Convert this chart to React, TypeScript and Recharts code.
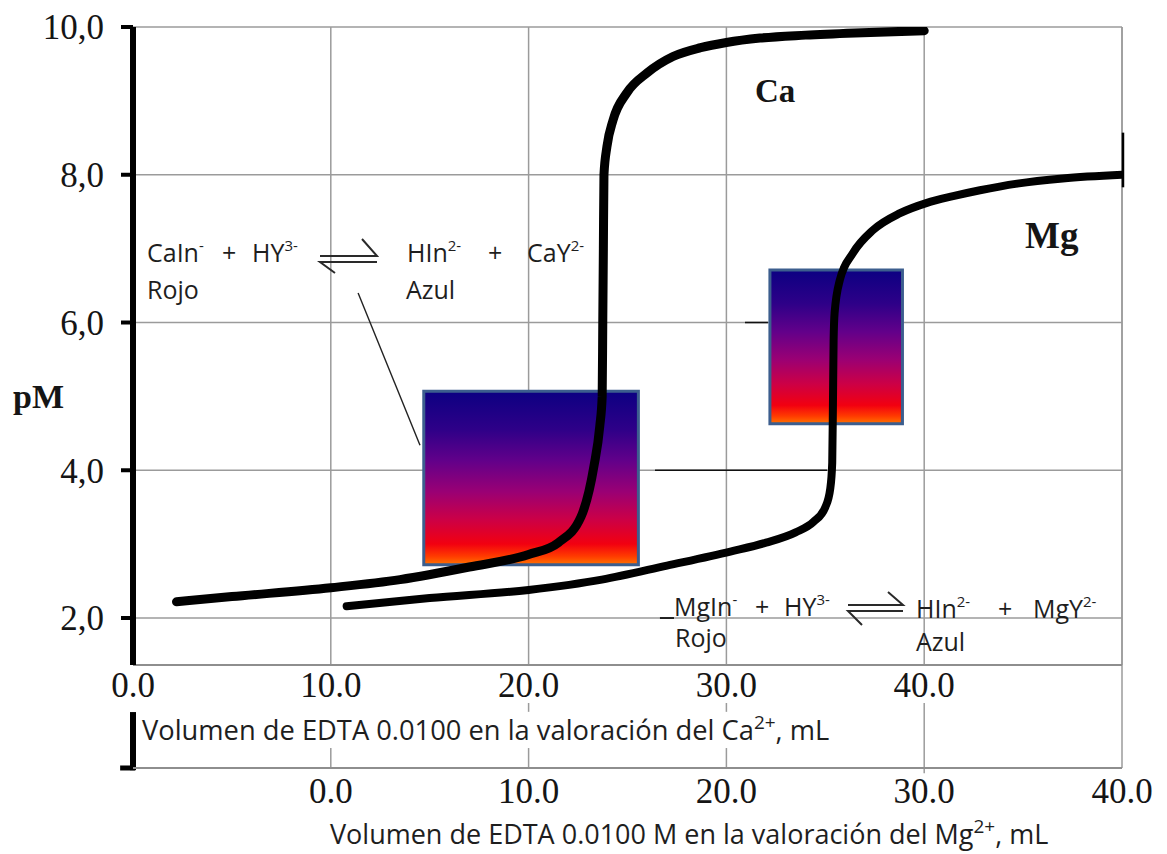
import React from 'react';
import {
  LineChart,
  Line,
  XAxis,
  YAxis,
  CartesianGrid,
  ReferenceArea,
  ReferenceLine,
} from 'recharts';

// ---- Data ----
// Ca titration: volume of EDTA (mL, upper x axis) vs pM
const caVolumes = [2.2, 5, 10, 13.5, 17, 20, 21.5, 22.65, 23.3, 23.6, 23.72, 23.75, 23.78, 23.81, 23.96, 24.27, 24.97, 26.0, 27.3, 28.7, 30.0, 31.7, 34.0, 36.5, 40.0];
const caPM = [2.22, 2.29, 2.41, 2.52, 2.69, 2.86, 3.02, 3.37, 4.05, 4.6, 5.0, 6.0, 7.0, 8.0, 8.38, 8.74, 9.11, 9.38, 9.6, 9.72, 9.79, 9.85, 9.89, 9.92, 9.95];

// Mg titration: volume of EDTA (mL, lower x axis) vs pM
const mgVolumes = [0.8, 5, 10, 13.7, 17, 20.2, 22, 23.5, 24.4, 25.0, 25.25, 25.35, 25.39, 25.42, 25.47, 25.74, 26.4, 27.41, 28.78, 30.14, 31.46, 32.82, 34.7, 37, 40];
const mgPM = [2.16, 2.27, 2.38, 2.52, 2.71, 2.9, 3.02, 3.16, 3.3, 3.5, 3.75, 4.1, 5.0, 5.76, 6.13, 6.58, 6.94, 7.25, 7.48, 7.62, 7.71, 7.79, 7.88, 7.95, 8.0];

const caTicks = [0, 10, 20, 30, 40];
const mgTicks = [0, 10, 20, 30, 40];
const pmTicks = [2, 4, 6, 8, 10];

const caData = caVolumes.map((v, i) => ({ v, pM: caPM[i] }));
const mgData = mgVolumes.map((v, i) => ({ v, pM: mgPM[i] }));

const serif = "'Liberation Serif', 'Times New Roman', serif";
const sans = "'Open Sans', 'Noto Sans', sans-serif";
const tickStyle = { fontFamily: serif, fontSize: 35, fill: '#151515' };
const GRID = '#9b9b9b';

type ChemProps = {
  x: number;
  y: number;
  parts: Array<[string, boolean?]>;
  size?: number;
  supSize?: number;
  rise?: number;
};

function Chem({ x, y, parts, size = 25, supSize = 15, rise = 11 }: ChemProps) {
  let raised = false;
  return (
    <text x={x} y={y} fontFamily={sans} fontSize={size} fill="#1e1e1e">
      {parts.map(([t, sup], i) => {
        let dy = 0;
        if (sup && !raised) {
          dy = -rise;
          raised = true;
        } else if (!sup && raised) {
          dy = rise;
          raised = false;
        }
        return (
          <tspan key={i} dy={dy} fontSize={sup ? supSize : size}>
            {t}
          </tspan>
        );
      })}
    </text>
  );
}

export default function App() {
  return (
    <div style={{ position: 'absolute', left: 0, top: 0, width: 1167, height: 854, background: '#fff' }}>
      <LineChart width={1167} height={854} margin={{ top: 27, right: 45, bottom: 0, left: 0 }}>
        <defs>
          <linearGradient id="indicador" x1="0" y1="0" x2="0" y2="1">
            <stop offset="0%" stopColor="#0c0082" />
            <stop offset="22%" stopColor="#2e0088" />
            <stop offset="40%" stopColor="#62008a" />
            <stop offset="58%" stopColor="#9a0074" />
            <stop offset="74%" stopColor="#cc0046" />
            <stop offset="88%" stopColor="#f20010" />
            <stop offset="95%" stopColor="#ff3a00" />
            <stop offset="100%" stopColor="#ff7400" />
          </linearGradient>
        </defs>

        <CartesianGrid xAxisId="ca" stroke={GRID} strokeWidth={1.5} />

        <XAxis
          xAxisId="ca"
          type="number"
          dataKey="v"
          domain={[0, 50]}
          ticks={caTicks}
          interval={0}
          allowDataOverflow
          height={103}
          axisLine={{ stroke: '#8e8e8e', strokeWidth: 2 }}
          tickLine={false}
          tickSize={0}
          tickMargin={7}
          tick={tickStyle}
          tickFormatter={(v: number) => v.toFixed(1)}
        />
        <XAxis
          xAxisId="mg"
          type="number"
          dataKey="v"
          domain={[-10, 40]}
          ticks={mgTicks}
          interval={0}
          allowDataOverflow
          height={86}
          axisLine={{ stroke: '#8e8e8e', strokeWidth: 2 }}
          tickLine={false}
          tickSize={0}
          tickMargin={10}
          tick={tickStyle}
          tickFormatter={(v: number) => v.toFixed(1)}
        />
        <YAxis
          type="number"
          domain={[1.364, 10]}
          ticks={pmTicks}
          interval={0}
          allowDataOverflow
          width={133}
          axisLine={{ stroke: '#000', strokeWidth: 6 }}
          tickLine={{ stroke: '#000', strokeWidth: 4 }}
          tickSize={12}
          tickMargin={17}
          tick={tickStyle}
          tickFormatter={(v: number) => v.toFixed(1).replace('.', ',')}
        />

        {/* right border continuing through the lower axis band */}
        <ReferenceLine xAxisId="ca" segment={[{ x: 50, y: 10 }, { x: 50, y: -0.03 }]} stroke={GRID} strokeWidth={1.5} ifOverflow="visible" />
        {/* lower band grid pieces */}
        <ReferenceLine xAxisId="ca" segment={[{ x: 10, y: 0.24 }, { x: 10, y: -0.03 }]} stroke={GRID} strokeWidth={1.5} ifOverflow="visible" />
        <ReferenceLine xAxisId="ca" segment={[{ x: 20, y: 0.85 }, { x: 20, y: 0.73 }]} stroke={GRID} strokeWidth={1.5} ifOverflow="visible" />
        <ReferenceLine xAxisId="ca" segment={[{ x: 20, y: 0.24 }, { x: 20, y: -0.03 }]} stroke={GRID} strokeWidth={1.5} ifOverflow="visible" />
        <ReferenceLine xAxisId="ca" segment={[{ x: 30, y: 0.85 }, { x: 30, y: 0.73 }]} stroke={GRID} strokeWidth={1.5} ifOverflow="visible" />
        <ReferenceLine xAxisId="ca" segment={[{ x: 30, y: 0.24 }, { x: 30, y: -0.03 }]} stroke={GRID} strokeWidth={1.5} ifOverflow="visible" />
        <ReferenceLine xAxisId="ca" segment={[{ x: 40, y: 0.85 }, { x: 40, y: -0.1 }]} stroke={GRID} strokeWidth={1.5} ifOverflow="visible" />
        {/* black bracket of the lower axis */}
        <ReferenceLine xAxisId="ca" segment={[{ x: 0, y: 0.727 }, { x: 0, y: -0.06 }]} stroke="#000" strokeWidth={6} ifOverflow="visible" />
        <ReferenceLine xAxisId="ca" segment={[{ x: -0.65, y: -0.03 }, { x: 0.1, y: -0.03 }]} stroke="#000" strokeWidth={5} ifOverflow="visible" />
        {/* small black mark on right border */}
        <ReferenceLine xAxisId="ca" segment={[{ x: 50.05, y: 8.57 }, { x: 50.05, y: 7.83 }]} stroke="#000" strokeWidth={2.5} ifOverflow="visible" />

        {/* indicator colour boxes */}
        <ReferenceArea xAxisId="ca" x1={14.7} x2={25.55} y1={2.72} y2={5.07} fill="url(#indicador)" fillOpacity={1} stroke="#3c5e8e" strokeWidth={3} ifOverflow="visible" />
        <ReferenceArea xAxisId="ca" x1={32.2} x2={38.9} y1={4.63} y2={6.71} fill="url(#indicador)" fillOpacity={1} stroke="#3c5e8e" strokeWidth={3} ifOverflow="visible" />

        {/* thin leader lines */}
        <ReferenceLine xAxisId="ca" segment={[{ x: 11.38, y: 6.4 }, { x: 14.51, y: 4.34 }]} stroke="#222" strokeWidth={1.4} ifOverflow="visible" />
        <ReferenceLine xAxisId="ca" segment={[{ x: 26.39, y: 4.0 }, { x: 35.09, y: 4.0 }]} stroke="#111" strokeWidth={1.6} ifOverflow="visible" />
        <ReferenceLine xAxisId="ca" segment={[{ x: 30.94, y: 6.0 }, { x: 32.1, y: 6.0 }]} stroke="#111" strokeWidth={1.6} ifOverflow="visible" />
        <ReferenceLine xAxisId="ca" segment={[{ x: 26.64, y: 2.0 }, { x: 27.35, y: 2.0 }]} stroke="#111" strokeWidth={1.8} ifOverflow="visible" />

        <Line
          xAxisId="ca"
          data={caData}
          dataKey="pM"
          type="monotone"
          stroke="#000"
          strokeWidth={9}
          strokeLinecap="round"
          dot={false}
          activeDot={false}
          isAnimationActive={false}
        />
        <Line
          xAxisId="mg"
          data={mgData}
          dataKey="pM"
          type="monotone"
          stroke="#000"
          strokeWidth={8}
          strokeLinecap="round"
          dot={false}
          activeDot={false}
          isAnimationActive={false}
        />

        {/* ---- annotations ---- */}
        <g>
          <text x={13} y={408} fontFamily={serif} fontWeight="bold" fontSize={34} fill="#151515">pM</text>
          <text x={755} y={102} fontFamily={serif} fontWeight="bold" fontSize={33} fill="#151515">Ca</text>
          <text x={1025} y={248} fontFamily={serif} fontWeight="bold" fontSize={37} fill="#151515">Mg</text>

          {/* Ca equilibrium */}
          <Chem x={147} y={262} parts={[['CaIn'], ['-', true]]} />
          <Chem x={222} y={262} parts={[['+']]} />
          <Chem x={252} y={262} parts={[['HY'], ['3-', true]]} />
          <path d="M320 256 H377 L362 239" fill="none" stroke="#2a2a2a" strokeWidth={2} />
          <path d="M377 262 H320 L335 273" fill="none" stroke="#2a2a2a" strokeWidth={2} />
          <Chem x={407} y={262} parts={[['HIn'], ['2-', true]]} />
          <Chem x={488} y={262} parts={[['+']]} />
          <Chem x={527} y={262} parts={[['CaY'], ['2-', true]]} />
          <Chem x={147} y={299} parts={[['Rojo']]} />
          <Chem x={406} y={299} parts={[['Azul']]} />

          {/* Mg equilibrium */}
          <Chem x={674} y={616} parts={[['MgIn'], ['-', true]]} />
          <Chem x={755} y={616} parts={[['+']]} />
          <Chem x={784} y={616} parts={[['HY'], ['3-', true]]} />
          <path d="M848 605 H903 L888 592" fill="none" stroke="#2a2a2a" strokeWidth={2} />
          <path d="M903 611 H848 L862 625" fill="none" stroke="#2a2a2a" strokeWidth={2} />
          <Chem x={916} y={618} parts={[['HIn'], ['2-', true]]} />
          <Chem x={998} y={618} parts={[['+']]} />
          <Chem x={1033} y={618} parts={[['MgY'], ['2-', true]]} />
          <Chem x={675} y={647} parts={[['Rojo']]} />
          <Chem x={916} y={651} parts={[['Azul']]} />

          {/* axis titles */}
          <Chem x={142} y={740} size={27.3} supSize={19} rise={11} parts={[['Volumen de EDTA 0.0100 en la valoración del Ca'], ['2+', true], [', mL']]} />
          <Chem x={330} y={844} size={27} supSize={19} rise={11} parts={[['Volumen de EDTA 0.0100 M en la valoración del Mg'], ['2+', true], [', mL']]} />
        </g>
      </LineChart>
    </div>
  );
}
